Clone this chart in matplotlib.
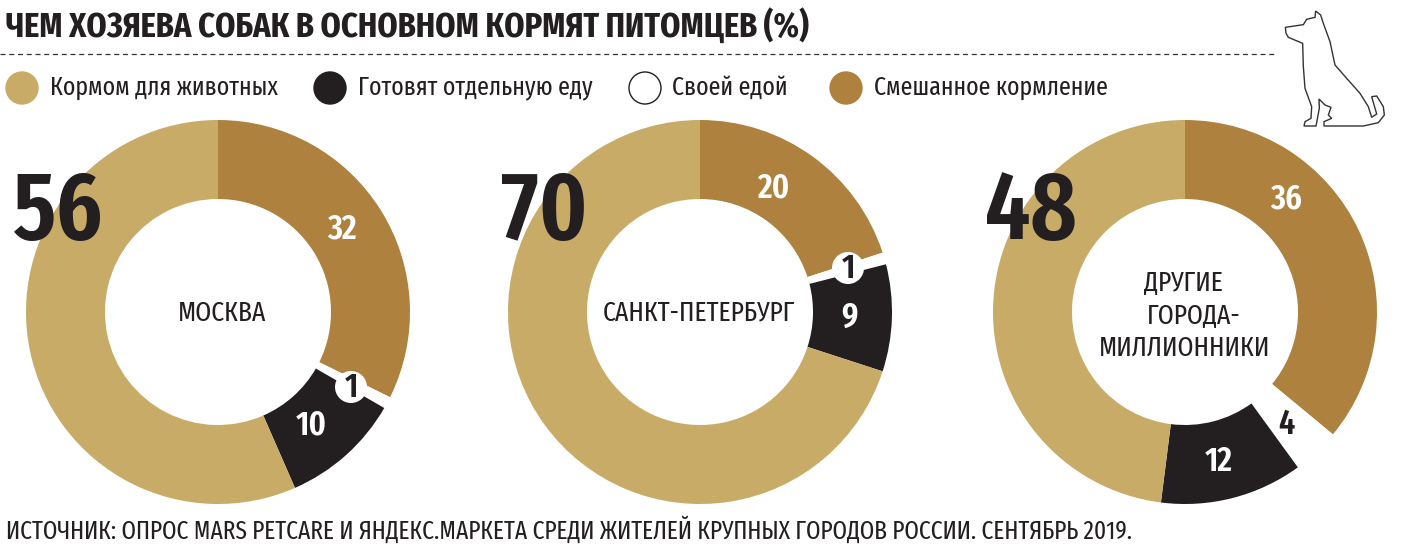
import matplotlib
matplotlib.use("Agg")
import matplotlib.pyplot as plt
from matplotlib.patches import Circle, Polygon

W, H = 1407, 552

plt.rcParams["font.family"] = ["Fira Sans Extra Condensed", "Roboto", "DejaVu Sans"]

TITLE = "ЧЕМ ХОЗЯЕВА СОБАК В ОСНОВНОМ КОРМЯТ ПИТОМЦЕВ (%)"
SOURCE = "ИСТОЧНИК: ОПРОС MARS PETCARE И ЯНДЕКС.МАРКЕТА СРЕДИ ЖИТЕЛЕЙ КРУПНЫХ ГОРОДОВ РОССИИ. СЕНТЯБРЬ 2019."

CATEGORIES = ["Кормом для животных", "Готовят отдельную еду", "Своей едой", "Смешанное кормление"]
FEED = "#C8AB66"
COOK = "#231F20"
OWN = "#FFFFFF"
MIXED = "#AE823E"

# values per city
moscow = {"feed": 56, "cook": 10, "own": 1, "mixed": 32}
spb = {"feed": 70, "cook": 9, "own": 1, "mixed": 20}
other = {"feed": 48, "cook": 12, "own": 4, "mixed": 36}

CENTERS = [218, 700, 1185]
CY = 312
R_OUT = 192
R_IN = 113

DOG = [(256, 82), (310, 74), (320, 58), (345, 52), (347, 33), (362, 45), (370, 70), (390, 125),
       (405, 195), (440, 235), (480, 280), (505, 320), (515, 352), (530, 342), (515, 290),
       (530, 288), (550, 320), (553, 345), (535, 368), (490, 378), (372, 378), (372, 365),
       (395, 355), (385, 345), (393, 322), (375, 315), (357, 297), (358, 325), (348, 378),
       (312, 378), (315, 365), (333, 355), (335, 320), (315, 265), (310, 200), (308, 130),
       (265, 112), (258, 100)]


def y(v):
    return H - v


fig = plt.figure(figsize=(W / 100, H / 100), dpi=100)
ax = fig.add_axes([0, 0, 1, 1])

for cx, d in zip(CENTERS, [moscow, spb, other]):
    ax.pie([d["mixed"], d["own"], d["cook"], d["feed"]],
           colors=[MIXED, OWN, COOK, FEED],
           startangle=90, counterclock=False,
           center=(cx, y(CY)), radius=R_OUT, frame=True,
           wedgeprops=dict(width=R_OUT - R_IN, linewidth=0))

ax.set_xlim(0, W)
ax.set_ylim(0, H)
ax.set_aspect("equal")
ax.axis("off")

# title, rule
ax.text(6, y(26), TITLE, fontsize=25.3, fontweight="bold", color="#231F20", va="center", ha="left")
ax.plot([0, 1277], [y(54), y(54)], color="#333333", lw=0.9, dashes=(4, 3))

# legend
for lx, tx, c, name in zip([22, 330, 645, 846], [50, 358, 672, 874],
                           [FEED, COOK, OWN, MIXED], CATEGORIES):
    ax.add_patch(Circle((lx, y(88)), 16, fc=c, ec="#231F20" if c == OWN else c, lw=1))
    ax.text(tx, y(88), name, fontsize=18.7, color="#231F20", va="center", ha="left")

# big numbers
for x0, d in zip([58, 545, 1031], [moscow, spb, other]):
    ax.text(x0, y(213), str(d["feed"]), fontsize=70, fontweight="semibold", color="#231F20",
            va="center", ha="center")

# wedge labels
labels = [(342, 229, moscow["mixed"], "white"), (311, 425, moscow["cook"], "white"),
          (773, 188, spb["mixed"], "white"), (850, 318, spb["cook"], "white"),
          (1286, 199, other["mixed"], "white"), (1219, 462, other["cook"], "white"),
          (1286, 425, other["own"], COOK)]
for lx, ly, v, c in labels:
    ax.text(lx, y(ly), str(v), fontsize=25, fontweight="semibold", color=c, va="center", ha="center")

for lx, ly, v in [(351, 387, moscow["own"]), (848, 268, spb["own"])]:
    ax.add_patch(Circle((lx, y(ly)), 16, fc="white", ec="none", zorder=3))
    ax.text(lx, y(ly + 1), str(v), fontsize=25, fontweight="semibold", color=COOK, va="center",
            ha="center", zorder=4)

# city names
for tx, ty, name in [(222, 313, "МОСКВА"), (699, 313, "САНКТ-ПЕТЕРБУРГ"), (1183, 283, "ДРУГИЕ"),
                     (1194, 316, "ГОРОДА-"), (1185, 348, "МИЛЛИОННИКИ")]:
    ax.text(tx, y(ty), name, fontsize=20, color="#231F20", va="center", ha="center")

# source
ax.text(6, y(530), SOURCE, fontsize=18.3, color="#231F20", va="center", ha="left")

# dog outline
ax.add_patch(Polygon([(1200 + px / 3, y(py / 3)) for px, py in DOG], closed=True,
                     fc="white", ec="#333333", lw=1))

fig.savefig("out.png", dpi=100, facecolor="white")
